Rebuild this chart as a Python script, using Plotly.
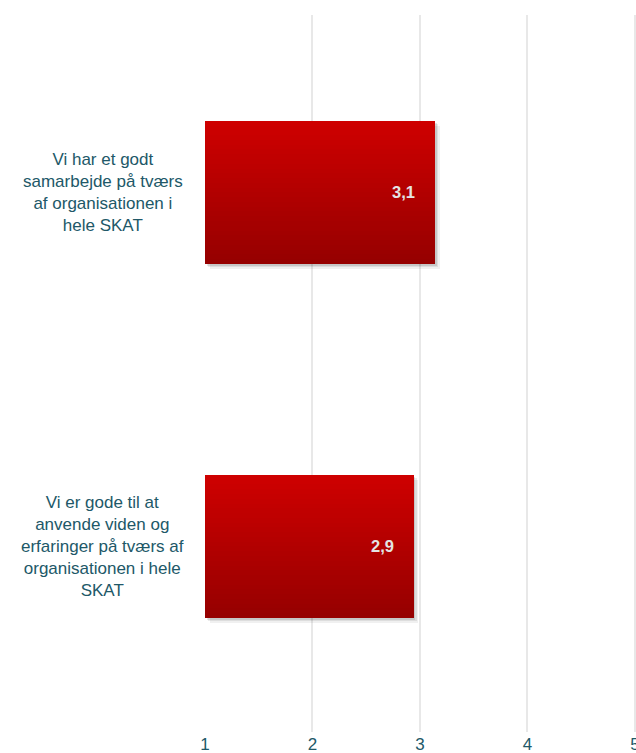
import plotly.graph_objects as go

categories = [
    "Vi har et godt<br>samarbejde på tværs<br>af organisationen i<br>hele SKAT",
    "Vi er gode til at<br>anvende viden og<br>erfaringer på tværs af<br>organisationen i hele<br>SKAT",
]
values = [3.14, 2.94]
value_labels = ["3,1", "2,9"]
x_ticks = [1, 2, 3, 4, 5]
x_tick_labels = ["1", "2", "3", "4", "5"]

BASE = 1
BAR_W = 0.404
N_SLICES = 30
TOP_RGB = (206, 0, 0)
BOT_RGB = (150, 0, 0)
TEXT_COLOR = "#215868"
FONT = "Liberation Sans, Arial, sans-serif"

fig = go.Figure()

lengths = [v - BASE for v in values]
ycat = list(range(len(categories)))

# soft shadow layers (right / bottom)
for dx, dy, alpha in [(0.045, 0.014, 0.06), (0.03, 0.009, 0.08), (0.015, 0.005, 0.10)]:
    fig.add_trace(go.Bar(
        y=ycat, x=lengths, base=BASE + dx, orientation="h",
        width=BAR_W, offset=-BAR_W / 2 + dy,
        marker=dict(color=f"rgba(0,0,0,{alpha})", line=dict(width=0)),
        hoverinfo="skip", showlegend=False,
    ))

# gradient bar slices (top -> bottom)
sw = BAR_W / N_SLICES
for k in range(N_SLICES):
    t = k / (N_SLICES - 1)
    c = tuple(round(TOP_RGB[i] + (BOT_RGB[i] - TOP_RGB[i]) * t) for i in range(3))
    fig.add_trace(go.Bar(
        y=ycat, x=lengths, base=BASE, orientation="h",
        width=sw * 1.02, offset=-BAR_W / 2 + k * sw,
        marker=dict(color=f"rgb{c}", line=dict(width=0)),
        hoverinfo="skip", showlegend=False,
    ))

annotations = []
for i, (v, lab) in enumerate(zip(values, value_labels)):
    annotations.append(dict(
        x=v, y=i, xref="x", yref="y", text=f"<b>{lab}</b>", showarrow=False,
        xanchor="right", xshift=-18,
        font=dict(family=FONT, size=16.5, color="#E4E4E4"),
    ))
for i, cat in enumerate(categories):
    annotations.append(dict(
        x=-0.2367, y=i, xref="paper", yref="y", text=cat, showarrow=False,
        xanchor="center", align="center",
        font=dict(family=FONT, size=17, color=TEXT_COLOR),
    ))

fig.update_layout(
    width=636, height=753,
    margin=dict(l=205, r=0, t=15, b=21, autoexpand=False),
    paper_bgcolor="white", plot_bgcolor="white",
    barmode="overlay", bargap=0,
    showlegend=False, hovermode=False,
    annotations=annotations,
    font=dict(family=FONT, color=TEXT_COLOR),
    xaxis=dict(
        range=[1, 5.01], tickvals=x_ticks, ticktext=x_tick_labels,
        showgrid=True, gridcolor="#E8E8E8", gridwidth=2,
        zeroline=False, showline=False, ticks="",
        ticklabeloverflow="allow", automargin=False,
        tickfont=dict(family=FONT, size=17, color=TEXT_COLOR),
    ),
    yaxis=dict(
        range=[1.524, -0.501], showticklabels=False, showgrid=False,
        zeroline=False, showline=False, ticks="", automargin=False,
    ),
)

fig.write_html(
    "out.html",
    config={"displayModeBar": False},
    post_script="document.body.style.margin='0';document.body.style.overflow='hidden';",
)
